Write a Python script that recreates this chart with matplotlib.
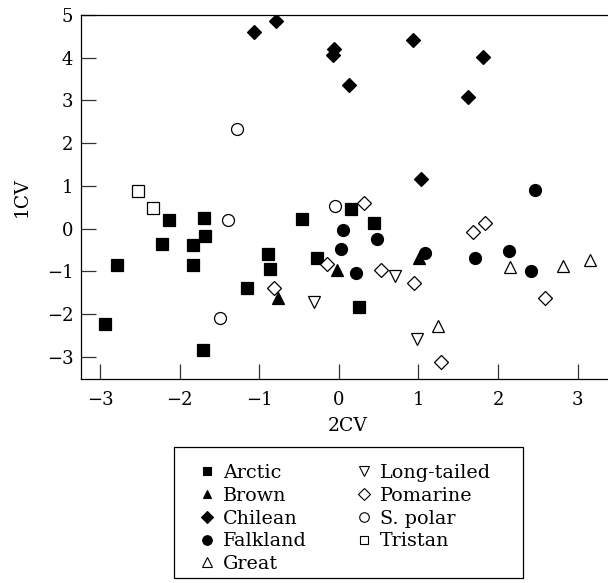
import matplotlib
matplotlib.use("Agg")
import matplotlib.pyplot as plt
from matplotlib.lines import Line2D
from matplotlib.patches import Rectangle

plt.rcParams['font.family'] = ['DejaVu Serif']

# ---- data (2CV, 1CV) ----
arctic_x = [-2.13, -1.70, -2.22, -1.83, -1.68, -1.83, -2.79, -2.94, -1.71, -1.15, -0.89, -0.86, -0.465, -0.27, 0.15, 0.44, 0.25]
arctic_y = [0.21, 0.25, -0.35, -0.39, -0.17, -0.86, -0.86, -2.23, -2.83, -1.38, -0.60, -0.94, 0.22, -0.69, 0.46, 0.13, -1.84]
brown_x = [-0.76, -0.02, 1.01]
brown_y = [-1.62, -0.98, -0.69]
chilean_x = [-1.07, -0.79, -0.075, -0.06, 0.93, 1.81, 0.13, 1.62, 1.03]
chilean_y = [4.60, 4.87, 4.07, 4.20, 4.42, 4.02, 3.37, 3.09, 1.17]
falkland_x = [2.47, 0.05, 0.48, 0.03, 0.22, 1.08, 1.71, 2.14, 2.42]
falkland_y = [0.90, -0.04, -0.25, -0.48, -1.05, -0.58, -0.69, -0.53, -1.00]
great_x = [1.24, 2.15, 2.82, 3.16]
great_y = [-2.27, -0.90, -0.87, -0.74]
longtailed_x = [-0.31, 0.70, 0.98]
longtailed_y = [-1.71, -1.11, -2.59]
pomarine_x = [-0.82, -0.15, 0.32, 0.53, 0.94, 1.28, 1.68, 1.84, 2.59]
pomarine_y = [-1.38, -0.83, 0.59, -0.98, -1.28, -3.12, -0.07, 0.13, -1.63]
spolar_x = [-1.28, -1.39, -1.49, -0.05]
spolar_y = [2.34, 0.19, -2.09, 0.53]
tristan_x = [-2.53, -2.33]
tristan_y = [0.87, 0.49]

labels = ["Arctic", "Brown", "Chilean", "Falkland", "Great",
          "Long-tailed", "Pomarine", "S. polar", "Tristan"]
xs = [arctic_x, brown_x, chilean_x, falkland_x, great_x,
      longtailed_x, pomarine_x, spolar_x, tristan_x]
ys = [arctic_y, brown_y, chilean_y, falkland_y, great_y,
      longtailed_y, pomarine_y, spolar_y, tristan_y]
xticks = [-3, -2, -1, 0, 1, 2, 3]
yticks = [-3, -2, -1, 0, 1, 2, 3, 4, 5]

# ---- styles ----
styles = [
    dict(marker='s', ms=8.0, mfc='black'),
    dict(marker='^', ms=8.0, mfc='black'),
    dict(marker='D', ms=7.2, mfc='black'),
    dict(marker='o', ms=8.6, mfc='black'),
    dict(marker='^', ms=8.6, mfc='white'),
    dict(marker='v', ms=8.6, mfc='white'),
    dict(marker='D', ms=7.2, mfc='white'),
    dict(marker='o', ms=8.6, mfc='white'),
    dict(marker='s', ms=8.0, mfc='white'),
]

W, H = 608, 583
fig = plt.figure(figsize=(W / 100, H / 100), dpi=100)
ax_l, ax_r, ax_t, ax_b = 81, 615, 15, 379
ax = fig.add_axes([ax_l / W, 1 - ax_b / H, (ax_r - ax_l) / W, (ax_b - ax_t) / H])

for x, y, st in zip(xs, ys, styles):
    ax.plot(x, y, linestyle='none', marker=st['marker'], markersize=st['ms'],
            markerfacecolor=st['mfc'], markeredgecolor='black', markeredgewidth=0.9)

ax.set_xlim(-3.24, 3.47)
ax.set_ylim(-3.52, 5.0)
ax.set_xticks(xticks)
ax.set_yticks(yticks)
ax.tick_params(direction='in', length=10.8, width=0.9, labelsize=13, color='#333333')
ax.tick_params(axis='x', pad=8.3)
ax.tick_params(axis='y', pad=5.5)
for s in ['top', 'bottom', 'left']:
    ax.spines[s].set_linewidth(0.9)
ax.spines['right'].set_visible(False)

ax.set_xlabel('2CV', fontsize=13.5)
ax.set_ylabel('1CV', fontsize=13.5)
ax.xaxis.set_label_coords(0.5, (ax_b - 417) / (ax_b - ax_t))
ax.yaxis.set_label_coords((31 - ax_l) / (ax_r - ax_l), 0.5)

# ---- legend ----
handles = []
for st in styles:
    handles.append(Line2D([], [], linestyle='none', marker=st['marker'],
                          markersize=st['ms'] * 0.8, markerfacecolor=st['mfc'],
                          markeredgecolor='black', markeredgewidth=0.8))
fig.patches.append(Rectangle((174 / W, 1 - 578 / H), (523 - 174) / W, (578 - 447) / H,
                             transform=fig.transFigure, fill=False,
                             edgecolor='black', linewidth=0.9))
fig.legend(handles, labels, ncol=2, loc='upper left',
           bbox_to_anchor=(197.4 / W, 1 - 464.0 / H), frameon=False,
           fontsize=13.8, handlelength=1.0, handletextpad=0.33,
           columnspacing=2.5, labelspacing=0.25, borderpad=0, borderaxespad=0)

fig.savefig('out.png', dpi=100)
